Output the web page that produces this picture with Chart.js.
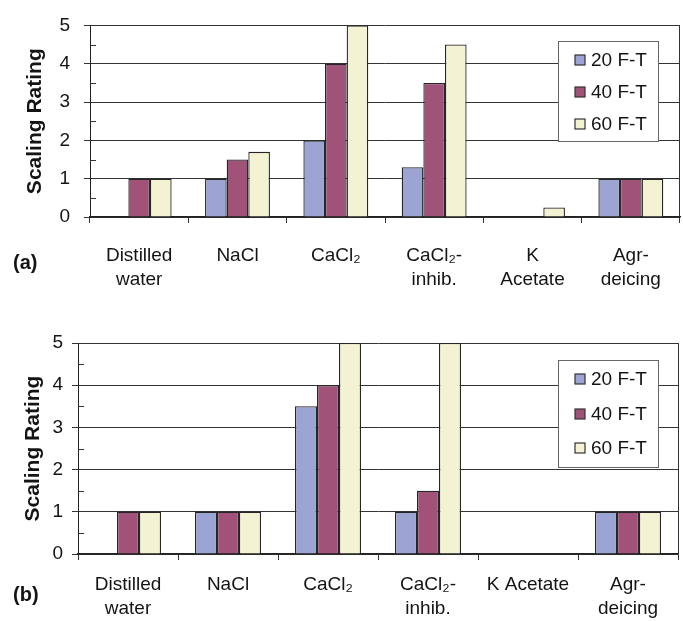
<!DOCTYPE html>
<html><head><meta charset="utf-8">
<script src="https://cdn.jsdelivr.net/npm/chart.js@4/dist/chart.umd.min.js"></script>
<style>
html,body{margin:0;padding:0;background:#fff;}
#wrap{position:relative;width:683px;height:621px;overflow:hidden;background:#fff;}
.box{position:absolute;left:0;width:683px;}
</style></head><body>
<div id="wrap">
<div class="box" style="top:0;height:310px"><canvas id="ca" width="683" height="310"></canvas></div>
<div class="box" style="top:310px;height:311px"><canvas id="cb" width="683" height="311"></canvas></div>
</div>
<script>
const categoriesA = [["Distilled","water"],"NaCl","CaCl₂",["CaCl₂-","inhib."],["K","Acetate"],["Agr-","deicing"]];
const categoriesB = [["Distilled","water"],"NaCl","CaCl₂",["CaCl₂-","inhib."],"K Acetate",["Agr-","deicing"]];
const seriesNames = ["20 F-T","40 F-T","60 F-T"];
const seriesColors = ["#9ba4d3","#a05278","#f3f2d3"];
const a20 = [0, 1, 2, 1.3, 0, 1];
const a40 = [1, 1.5, 4, 3.5, 0, 1];
const a60 = [1, 1.7, 5, 4.5, 0.25, 1];
const b20 = [0, 1, 3.5, 1, 0, 1];
const b40 = [1, 1, 4, 1.5, 0, 1];
const b60 = [1, 1, 5, 5, 0, 1];
const yMin = 0, yMax = 5, yStep = 1;
const yTitle = "Scaling Rating";
const panelLabels = ["(a)", "(b)"];

const FONT = '"Liberation Sans", Arial, Helvetica, sans-serif';
const TXT = '#141414';

const extras = {
  id: 'extras',
  afterDraw(chart, args, o) {
    const ctx = chart.ctx, ca = chart.chartArea, y = chart.scales.y;
    ctx.save();
    ctx.strokeStyle = '#333'; ctx.lineWidth = 1;
    for (let v = yMin + yStep / 2; v < yMax; v += yStep) {
      const py = Math.round(y.getPixelForValue(v)) + 0.5;
      ctx.beginPath(); ctx.moveTo(ca.left, py); ctx.lineTo(ca.left + 6, py); ctx.stroke();
    }
    const lx = Math.round(ca.right - o.legRight), ly = Math.round(ca.top + o.legTop), lw = 100, lh = o.legH;
    ctx.fillStyle = '#fff'; ctx.fillRect(lx, ly, lw, lh);
    ctx.strokeStyle = '#666'; ctx.lineWidth = 1; ctx.strokeRect(lx + 0.5, ly + 0.5, lw, lh);
    ctx.font = '19px ' + FONT; ctx.textBaseline = 'middle'; ctx.textAlign = 'left';
    chart.data.datasets.forEach((ds, i) => {
      const cy = Math.round(ly + o.rowFirst + i * o.rowGap);
      ctx.fillStyle = ds.backgroundColor; ctx.fillRect(lx + 17, cy - 5, 10, 10);
      ctx.strokeStyle = '#333'; ctx.lineWidth = 1.2; ctx.strokeRect(lx + 17, cy - 5, 10, 10);
      ctx.fillStyle = TXT; ctx.fillText(ds.label, lx + 33, cy + 1);
    });
    ctx.font = 'bold 20px ' + FONT;
    ctx.fillStyle = TXT;
    ctx.fillText(o.panel, 13, ca.bottom + o.panelDy);
    ctx.restore();
  }
};

function makeChart(id, labels, vals, cfg) {
  return new Chart(document.getElementById(id), {
    type: 'bar',
    data: {
      labels: labels,
      datasets: vals.map((d, i) => ({
        label: seriesNames[i],
        data: d,
        backgroundColor: seriesColors[i],
        borderColor: '#262626',
        borderWidth: c => (c.raw ? 1.3 : 0)
      }))
    },
    options: {
      responsive: false, animation: false, devicePixelRatio: 1,
      layout: { padding: { top: cfg.padTop, right: cfg.padRight, bottom: 0, left: 0 } },
      datasets: { bar: { categoryPercentage: 0.66, barPercentage: 1 } },
      plugins: {
        legend: { display: false }, tooltip: { enabled: false },
        extras: { legRight: cfg.legRight, legTop: cfg.legTop, legH: cfg.legH, rowFirst: cfg.rowFirst, rowGap: cfg.rowGap, panel: cfg.panel, panelDy: cfg.panelDy }
      },
      scales: {
        x: {
          grid: { offset: true, drawOnChartArea: true, color: c => (c.type === 'tick' ? 'rgba(0,0,0,0)' : '#333'), tickColor: '#333', tickLength: 6, lineWidth: 1 },
          border: { color: '#222', width: 1.5 },
          ticks: { color: TXT, font: { family: FONT, size: 19, lineHeight: '24px' }, padding: cfg.xPad, maxRotation: 0, autoSkip: false },
          afterFit: s => { s.height = cfg.xH; }
        },
        y: {
          min: yMin, max: yMax,
          ticks: { stepSize: yStep, padding: cfg.yPad, color: TXT, font: { family: FONT, size: 19 } },
          grid: { color: '#333', tickColor: '#333', tickLength: 6, lineWidth: 1 },
          border: { color: '#222', width: 1 },
          title: { display: true, text: yTitle, color: TXT, font: { family: FONT, size: 21, weight: 'bold', lineHeight: 1 }, padding: { top: cfg.titlePad, bottom: 0 } },
          afterFit: s => { s.width = cfg.yW; }
        }
      }
    },
    plugins: [extras]
  });
}

makeChart('ca', categoriesA, [a20, a40, a60], {
  padTop: 17, padRight: 3, yW: 90, xH: 93, xPad: 21, yPad: 14, titlePad: 25,
  legRight: 122, legTop: 16, legH: 100, rowFirst: 19, rowGap: 32, panel: panelLabels[0], panelDy: 46
});
makeChart('cb', categoriesB, [b20, b40, b60], {
  padTop: 33, padRight: 5, yW: 78, xH: 67, xPad: 13, yPad: 9, titlePad: 23,
  legRight: 120, legTop: 17, legH: 107, rowFirst: 19, rowGap: 34.5, panel: panelLabels[1], panelDy: 41
});
</script>
</body></html>
